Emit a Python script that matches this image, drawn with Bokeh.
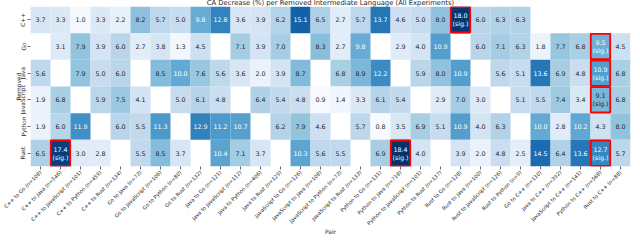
import math
from bokeh.plotting import figure
from bokeh.models import ColumnDataSource, FactorRange
from bokeh.palettes import Blues256
from bokeh.embed import file_html
from bokeh.resources import INLINE
from bokeh.core.properties import value

pairs = [
    "C++ to Go (n=108)", "C++ to Java (n=546)", "C++ to JavaScript (n=101)",
    "C++ to Python (n=459)", "C++ to Rust (n=134)",
    "Go to Java (n=73)", "Go to JavaScript (n=106)", "Go to Python (n=80)", "Go to Rust (n=132)",
    "Java to Go (n=121)", "Java to JavaScript (n=112)", "Java to Python (n=406)", "Java to Rust (n=129)",
    "JavaScript to Go (n=126)", "JavaScript to Java (n=108)", "JavaScript to Python (n=73)",
    "JavaScript to Rust (n=133)",
    "Python to Go (n=131)", "Python to Java (n=718)", "Python to JavaScript (n=101)",
    "Python to Rust (n=137)",
    "Rust to Go (n=128)", "Rust to Java (n=100)", "Rust to JavaScript (n=126)", "Rust to Python (n=9)",
    "Go to C++ (n=110)", "Java to C++ (n=392)", "JavaScript to C++ (n=141)",
    "Python to C++ (n=568)", "Rust to C++ (n=88)",
]
removed = ["C++", "Go", "Java", "JavaScript", "Python", "Rust"]

N = None
cpp_vals = [3.7, 3.3, 1.0, 3.3, 2.2, 8.2, 5.7, 5.0, 9.8, 12.8, 3.6, 3.9, 6.2, 15.1, 6.5,
            2.7, 5.7, 13.7, 4.6, 5.0, 8.0, 18.0, 6.0, 6.3, 6.3, N, N, N, N, N]
go_vals = [N, 3.1, 7.9, 3.9, 6.0, 2.7, 3.8, 1.3, 4.5, N, 7.1, 3.9, 7.0, N, 8.3,
           2.7, 9.8, N, 2.9, 4.0, 10.9, N, 6.0, 7.1, 6.3, 1.8, 7.7, 6.8, 9.5, 4.5]
java_vals = [5.6, N, 7.9, 5.0, 6.0, N, 8.5, 10.0, 7.6, 5.6, 3.6, 2.0, 3.9, 8.7, N,
             6.8, 8.9, 12.2, N, 5.9, 8.0, 10.9, N, 5.6, 5.1, 13.6, 6.9, 4.8, 10.9, 6.8]
js_vals = [1.9, 6.8, N, 5.9, 7.5, 4.1, N, 5.0, 6.1, 4.8, N, 6.4, 5.4, 4.8, 0.9,
           1.4, 3.3, 6.1, 5.4, N, 2.9, 7.0, 3.0, N, 5.1, 5.5, 7.4, 3.4, 9.1, 6.8]
python_vals = [1.9, 6.0, 11.9, N, 6.0, 5.5, 11.3, N, 12.9, 11.2, 10.7, N, 6.2, 7.9, 4.6,
               N, 5.7, 0.8, 3.5, 6.9, 5.1, 10.9, 4.0, 6.3, N, 10.0, 2.8, 10.2, 4.3, 8.0]
rust_vals = [6.5, 17.4, 3.0, 2.8, N, 5.5, 8.5, 3.7, N, 10.4, 7.1, 3.7, N, 10.3, 5.6,
             5.5, N, 6.9, 18.4, 4.0, N, 3.9, 2.0, 4.8, 2.5, 14.5, 6.4, 13.6, 12.7, 5.7]
rows_vals = [cpp_vals, go_vals, java_vals, js_vals, python_vals, rust_vals]

sig_cells = [("C++", 21), ("Go", 28), ("Java", 28), ("JavaScript", 28),
             ("Rust", 1), ("Rust", 18), ("Rust", 28)]

palette = list(reversed(Blues256))  # light -> dark
all_vals = [v for r in rows_vals for v in r if v is not None]
vmin, vmax = min(all_vals), max(all_vals)


def color_for(v):
    t = (v - vmin) / (vmax - vmin)
    idx = min(255, max(0, int(round(t * 255))))
    return palette[idx]


def lum(hexc):
    rgb = [int(hexc[i:i + 2], 16) / 255 for i in (1, 3, 5)]
    lin = [c / 12.92 if c <= 0.03928 else ((c + 0.055) / 1.055) ** 2.4 for c in rgb]
    return 0.2126 * lin[0] + 0.7152 * lin[1] + 0.0722 * lin[2]


sig_set = set(sig_cells)
xs, ys, cols, labels, tcols = [], [], [], [], []
sx, sy = [], []
for rname, rv in zip(removed, rows_vals):
    for j, v in enumerate(rv):
        if v is None:
            continue
        c = color_for(v)
        xs.append(pairs[j]); ys.append(rname); cols.append(c)
        if (rname, j) in sig_set:
            labels.append(f"{v:.1f}\n(sig.)")
            sx.append(pairs[j]); sy.append(rname)
        else:
            labels.append(f"{v:.1f}")
        tcols.append("#262626" if lum(c) > 0.408 else "#ffffff")

src = ColumnDataSource(dict(x=xs, y=ys, c=cols, t=labels, tc=tcols))
sig_src = ColumnDataSource(dict(x=sx, y=sy))

p = figure(width=640, height=242,
           x_range=FactorRange(factors=pairs, range_padding=0),
           y_range=FactorRange(factors=removed[::-1], range_padding=0),
           output_backend="svg", toolbar_location=None,
           min_border_left=34, min_border_right=6, min_border_top=0, min_border_bottom=10)
p.styles = {"margin-top": "-4px", "margin-left": "-4px"}
p.outline_line_color = None
p.grid.visible = False
p.background_fill_color = "white"

p.title.text = "CA Decrease (%) per Removed Intermediate Language (All Experiments)"
p.title.text_font = "DejaVu Sans"
p.title.text_font_size = "6.8px"
p.title.text_font_style = "normal"
p.title.text_color = "#262626"
p.title.align = "center"
p.title.standoff = 0
p.title.offset = 0

p.rect(x="x", y="y", width=1, height=1, source=src, fill_color="c", line_color=None)
p.text(x="x", y="y", text="t", source=src, text_color="tc",
       text_font=value("DejaVu Sans"), text_font_size="6.3px",
       text_align="center", text_baseline="middle", text_line_height=1.1)
p.rect(x="x", y="y", width=0.97, height=0.95, source=sig_src, fill_color=None,
       line_color="red", line_width=1.8)

for ax in (p.xaxis[0], p.yaxis[0]):
    ax.axis_line_color = None
    ax.major_tick_line_color = "#262626"
    ax.major_tick_line_width = 0.7
    ax.major_tick_out = 3
    ax.major_tick_in = 0
    ax.minor_tick_line_color = None
    ax.major_label_text_font = "DejaVu Sans"
    ax.major_label_text_color = "#262626"
    ax.axis_label_text_font = "DejaVu Sans"
    ax.axis_label_text_font_style = "normal"
    ax.axis_label_text_color = "#262626"
    ax.axis_label_text_font_size = "6px"

p.xaxis.major_label_orientation = math.pi / 4
p.xaxis.major_label_text_font_size = "5.1px"
p.xaxis.major_label_standoff = 2
p.xaxis.axis_label = "Pair"
p.xaxis.axis_label_standoff = -3

p.yaxis.major_label_orientation = "vertical"
p.yaxis.major_label_text_font_size = "5.8px"
p.yaxis.major_label_standoff = 1
p.yaxis.axis_label = "Removed"
p.yaxis.axis_label_standoff = -4

open("out.html", "w").write(file_html(p, INLINE))
